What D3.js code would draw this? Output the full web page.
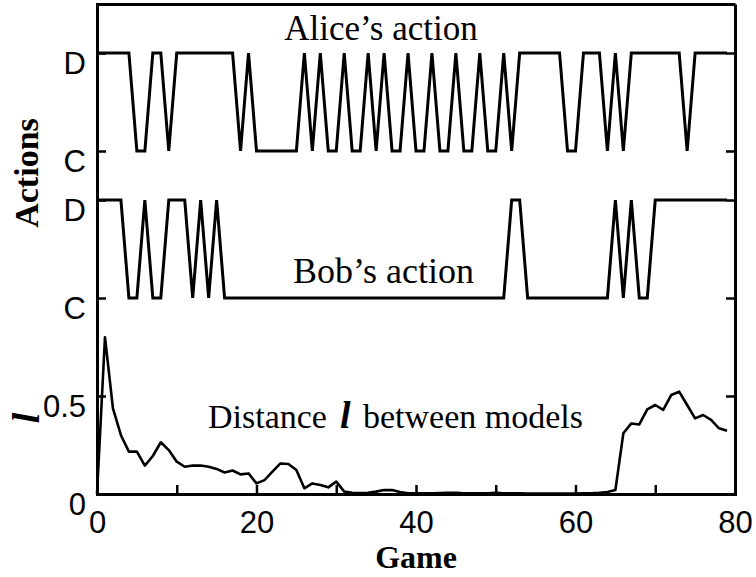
<!DOCTYPE html>
<html>
<head>
<meta charset="utf-8">
<script src="https://cdn.jsdelivr.net/npm/d3@7"></script>
<style>
  body { margin: 0; background: #fff; }
  svg { display: block; }
</style>
</head>
<body>
<div id="chart"></div>
<script>
// actions per game, 0..79
const alice = ["D","D","D","D","D","C","C","D","D","C",
               "D","D","D","D","D","D","D","D","C","D",
               "C","C","C","C","C","C","D","C","D","C",
               "C","D","C","C","D","C","D","C","C","D",
               "C","C","D","C","C","D","C","C","D","C",
               "C","D","C","D","D","D","D","D","D","C",
               "C","D","D","D","C","D","C","D","D","D",
               "D","D","D","D","C","D","D","D","D","D"];
const bob = ["D","D","D","D","C","C","D","C","C","D",
             "D","D","C","D","C","D","C","C","C","C",
             "C","C","C","C","C","C","C","C","C","C",
             "C","C","C","C","C","C","C","C","C","C",
             "C","C","C","C","C","C","C","C","C","C",
             "C","C","D","D","C","C","C","C","C","C",
             "C","C","C","C","C","D","C","D","C","C",
             "D","D","D","D","D","D","D","D","D","D"];
// distance l between models
const distance = [0.0, 0.80, 0.437, 0.30, 0.216, 0.216, 0.145, 0.194, 0.264, 0.224,
                  0.165, 0.139, 0.145, 0.145, 0.139, 0.128, 0.11, 0.12, 0.10, 0.105,
                  0.054, 0.071, 0.114, 0.156, 0.153, 0.122, 0.029, 0.054, 0.046, 0.034,
                  0.063, 0.012, 0.006, 0.005, 0.006, 0.012, 0.02, 0.02, 0.01, 0.004,
                  0.003, 0.003, 0.004, 0.005, 0.006, 0.006, 0.004, 0.003, 0.003, 0.004,
                  0.006, 0.004, 0.003, 0.003, 0.002, 0.002, 0.002, 0.002, 0.002, 0.002,
                  0.002, 0.003, 0.004, 0.006, 0.01, 0.02, 0.31, 0.36, 0.355, 0.432,
                  0.454, 0.429, 0.505, 0.522, 0.454, 0.386, 0.403, 0.378, 0.335, 0.323];

// stacked y units: distance 0..1, Bob C/D at 1/1.5, Alice C/D at 1.75/2.25
const bobLevel = {C: 1.0, D: 1.5};
const aliceLevel = {C: 1.75, D: 2.25};
const yTicks = [0, 0.5, 1.0, 1.5, 1.75, 2.25];
const yTickLabels = ["0", "0.5", "C", "D", "C", "D"];
const xTicks = [0, 10, 20, 30, 40, 50, 60, 70, 80];
const xTickLabels = {0: "0", 20: "20", 40: "40", 60: "60", 80: "80"};

const width = 756, height = 577;
const mLeft = 97, mRight = 735, mTop = 4, mBottom = 494;

const svg = d3.select("#chart").append("svg")
    .attr("width", width)
    .attr("height", height);

const x = d3.scaleLinear().domain([0, 80]).range([mLeft, mRight]);
const y = d3.scaleLinear().domain([0, 2.5]).range([mBottom, mTop]);

const sans = "'Liberation Sans', Arial, Helvetica, sans-serif";
const serif = "'Liberation Serif', 'Times New Roman', serif";

// axes (ticks point inward)
const gx = svg.append("g")
    .attr("transform", `translate(0,${mBottom})`)
    .call(d3.axisBottom(x).tickValues(xTicks).tickSizeInner(-9).tickSizeOuter(0)
        .tickFormat(d => xTickLabels[d] || ""));
gx.selectAll("text").attr("y", 29).attr("dy", "0.32em");

const gy = svg.append("g")
    .attr("transform", `translate(${mLeft},0)`)
    .call(d3.axisLeft(y).tickValues(yTicks).tickSizeInner(-9).tickSizeOuter(0).tickPadding(11)
        .tickFormat((d, i) => yTickLabels[i]));
gy.selectAll("text").attr("y", 11);

const gr = svg.append("g")
    .attr("transform", `translate(${mRight},0)`)
    .call(d3.axisRight(y).tickValues(yTicks).tickSizeInner(-9).tickSizeOuter(0).tickFormat(""));

const gt = svg.append("g")
    .attr("transform", `translate(0,${mTop})`)
    .call(d3.axisTop(x).tickValues([]).tickSizeOuter(0));

[gx, gy, gr, gt].forEach(g => {
    g.selectAll("path.domain").attr("stroke", "#000").attr("stroke-width", 3);
    g.selectAll(".tick line").attr("stroke", "#000").attr("stroke-width", 2.5);
    g.selectAll("text").attr("fill", "#000").style("font-family", sans).style("font-size", "31px");
});
gx.select("path.domain").attr("stroke-linecap", "square");
gy.select("path.domain").attr("stroke-linecap", "square");

// data lines
const line = d3.line().x((d, i) => x(i)).y(d => y(d));

svg.append("path")
    .datum(alice.map(a => aliceLevel[a]))
    .attr("d", line)
    .attr("fill", "none").attr("stroke", "#000").attr("stroke-width", 3)
    .attr("stroke-linejoin", "miter");

svg.append("path")
    .datum(bob.map(b => bobLevel[b]))
    .attr("d", line)
    .attr("fill", "none").attr("stroke", "#000").attr("stroke-width", 3)
    .attr("stroke-linejoin", "miter");

svg.append("path")
    .datum(distance)
    .attr("d", line)
    .attr("fill", "none").attr("stroke", "#000").attr("stroke-width", 2.6)
    .attr("stroke-linejoin", "round");

// annotations
svg.append("text")
    .attr("x", 381).attr("y", 40)
    .attr("text-anchor", "middle")
    .style("font-family", serif).style("font-size", "35px")
    .text("Alice’s action");

svg.append("text")
    .attr("x", 293).attr("y", 283)
    .style("font-family", serif).style("font-size", "36px")
    .text("Bob’s action");

const dt = svg.append("text")
    .attr("y", 428)
    .style("font-family", serif).style("font-size", "34px");
dt.append("tspan").attr("x", 208).text("Distance");
dt.append("tspan").attr("x", 340)
    .style("font-weight", "bold").style("font-style", "italic").style("font-size", "38px")
    .text("l");
dt.append("tspan").attr("x", 363).text("between models");

// axis titles
svg.append("text")
    .attr("transform", "translate(38,173) rotate(-90)")
    .attr("text-anchor", "middle")
    .style("font-family", serif).style("font-weight", "bold").style("font-size", "34px")
    .text("Actions");

svg.append("text")
    .attr("transform", "translate(39,418) rotate(-90)")
    .attr("text-anchor", "middle")
    .style("font-family", serif).style("font-weight", "bold").style("font-style", "italic")
    .style("font-size", "38px")
    .text("l");

svg.append("text")
    .attr("x", 416).attr("y", 568)
    .attr("text-anchor", "middle")
    .style("font-family", serif).style("font-weight", "bold").style("font-size", "32px")
    .text("Game");
</script>
</body>
</html>
